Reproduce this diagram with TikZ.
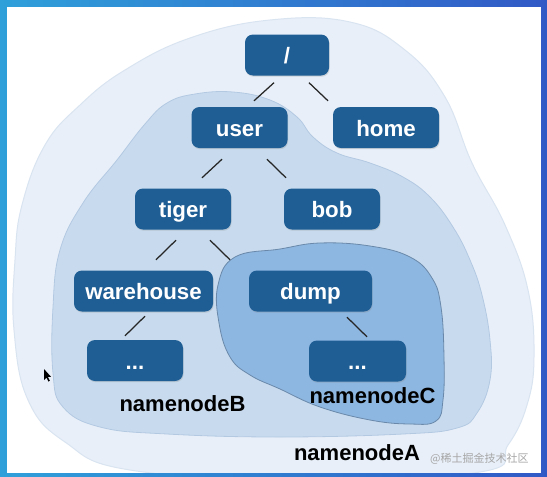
\documentclass[tikz,border=0pt]{standalone}
\usepackage{fontspec}
\setmainfont{Liberation Sans}
\newfontfamily\cjk{Noto Sans CJK SC}
\usetikzlibrary{calc,shadows}
\definecolor{boxblue}{HTML}{1E5E95}
\definecolor{blobA}{HTML}{E8EFF8}
\definecolor{blobAline}{HTML}{D9E4F1}
\definecolor{blobB}{HTML}{C8DBEE}
\definecolor{blobBline}{HTML}{B3C9E2}
\definecolor{blobC}{HTML}{8DB6E0}
\definecolor{blobCline}{HTML}{6A89AA}
\definecolor{frameL}{HTML}{2FA0DA}
\definecolor{frameR}{HTML}{3159C6}
\begin{document}
\begin{tikzpicture}[x=1pt,y=-1pt,
  box/.style={fill=boxblue, rounded corners=8pt, text=white,
    font=\fontsize{22.3}{22.3}\selectfont\bfseries, minimum height=41pt,
    text height=18pt, text depth=1pt, inner sep=0pt,
    drop shadow={opacity=0.25, shadow xshift=0.6pt, shadow yshift=-1.2pt}},
  conn/.style={line width=1.25pt, black!85},
  lbl/.style={anchor=base, text=black, font=\fontsize{22}{22}\selectfont\bfseries, inner sep=0pt}]
\useasboundingbox (0,0) rectangle (547,477);
% frame
\shade[left color=frameL, right color=frameR] (0,0) rectangle (547,477);
\fill[white] (6.5,6.5) rectangle (540.5,472.5);
\begin{scope}
\clip (6.5,6.5) rectangle (540.5,472.5);
% namenodeA region
\draw[fill=blobA, draw=blobAline, line width=1pt] plot[smooth cycle, tension=0.7] coordinates {
 (15,260) (22,205) (45,145) (80,105) (125,70) (190,38) (270,20) (350,22) (405,50)
 (445,97) (472,163) (505,225) (528,290) (534,357) (527,405) (508,445) (480,472)
 (300,480) (130,470) (65,442) (28,400) (14,330)};
% namenodeB region
\draw[fill=blobB, draw=blobBline, line width=0.8pt] plot[smooth cycle, tension=0.7] coordinates {
 (167,103) (195,94) (233,92) (270,100) (297,117) (313,137) (337,153) (370,163)
 (403,177) (430,197) (453,227) (470,260) (482,295) (490,340) (490,380) (477,413)
 (457,428) (403,434) (280,437) (167,434) (100,427) (63,407) (53,373) (53,307)
 (60,250) (83,203) (117,160) (145,124)};
% namenodeC region
\draw[fill=blobC, draw=blobCline, line width=0.8pt] plot[smooth cycle, tension=0.7] coordinates {
 (235,257) (280,249) (320,243) (370,246) (410,257) (432,278) (441,307) (444,357)
 (443,400) (436,421) (410,424) (370,420) (320,407) (280,389) (250,375) (230,357)
 (219,323) (218,285)};
\end{scope}
% cursor
\fill[black] (44,369) -- (44,380) -- (46.5,377.5) -- (48.5,381.5) -- (49.8,380.8) -- (47.8,376.8) -- (51,376.8) -- cycle;
% boxes
\node[box, minimum width=84pt] (root) at (287,55) {/};
\node[box, minimum width=96pt] (user) at (239.5,127.5) {user};
\node[box, minimum width=106pt] (home) at (386,127.5) {home};
\node[box, minimum width=96pt] (tiger) at (183,209) {tiger};
\node[box, minimum width=96pt] (bob) at (332,209) {bob};
\node[box, minimum width=139pt] (warehouse) at (143.5,291) {warehouse};
\node[box, minimum width=123pt] (dump) at (310.5,291) {dump};
\node[box, minimum width=96pt] (dl) at (135,360.5) {...};
\node[box, minimum width=97pt] (dr) at (357.5,361) {...};
% connectors
\draw[conn] ($(root.south)+(-13,7)$) -- ($(user.north)+(14.5,-6)$);
\draw[conn] ($(root.south)+(22,7)$) -- ($(home.north)+(-58,-6)$);
\draw[conn] ($(user.south)+(-17.5,11)$) -- ($(tiger.north)+(19,-10.5)$);
\draw[conn] ($(user.south)+(27.5,11)$) -- ($(bob.north)+(-46,-10.5)$);
\draw[conn] ($(tiger.south)+(-7,10.5)$) -- ($(warehouse.north)+(12.5,-10.5)$);
\draw[conn] ($(tiger.south)+(27,10.5)$) -- ($(dump.north)+(-80.5,-10.5)$);
\draw[conn] ($(warehouse.south)+(1.5,4.5)$) -- ($(dl.north)+(-10,-4)$);
\draw[conn] ($(dump.south)+(36.5,5.5)$) -- ($(dr.north)+(9.5,-3.5)$);
% labels
\node[lbl] (lB) at (182.5,411) {namenodeB};
\node[lbl] (lC) at (372.5,403) {namenodeC};
\node[lbl] (lA) at (357,460) {namenodeA};
\node[anchor=base west, inner sep=0pt, text=black!35, font=\cjk\fontsize{11}{11}\selectfont] (wm) at (430,462) {@稀土掘金技术社区};
\end{tikzpicture}
\end{document}
